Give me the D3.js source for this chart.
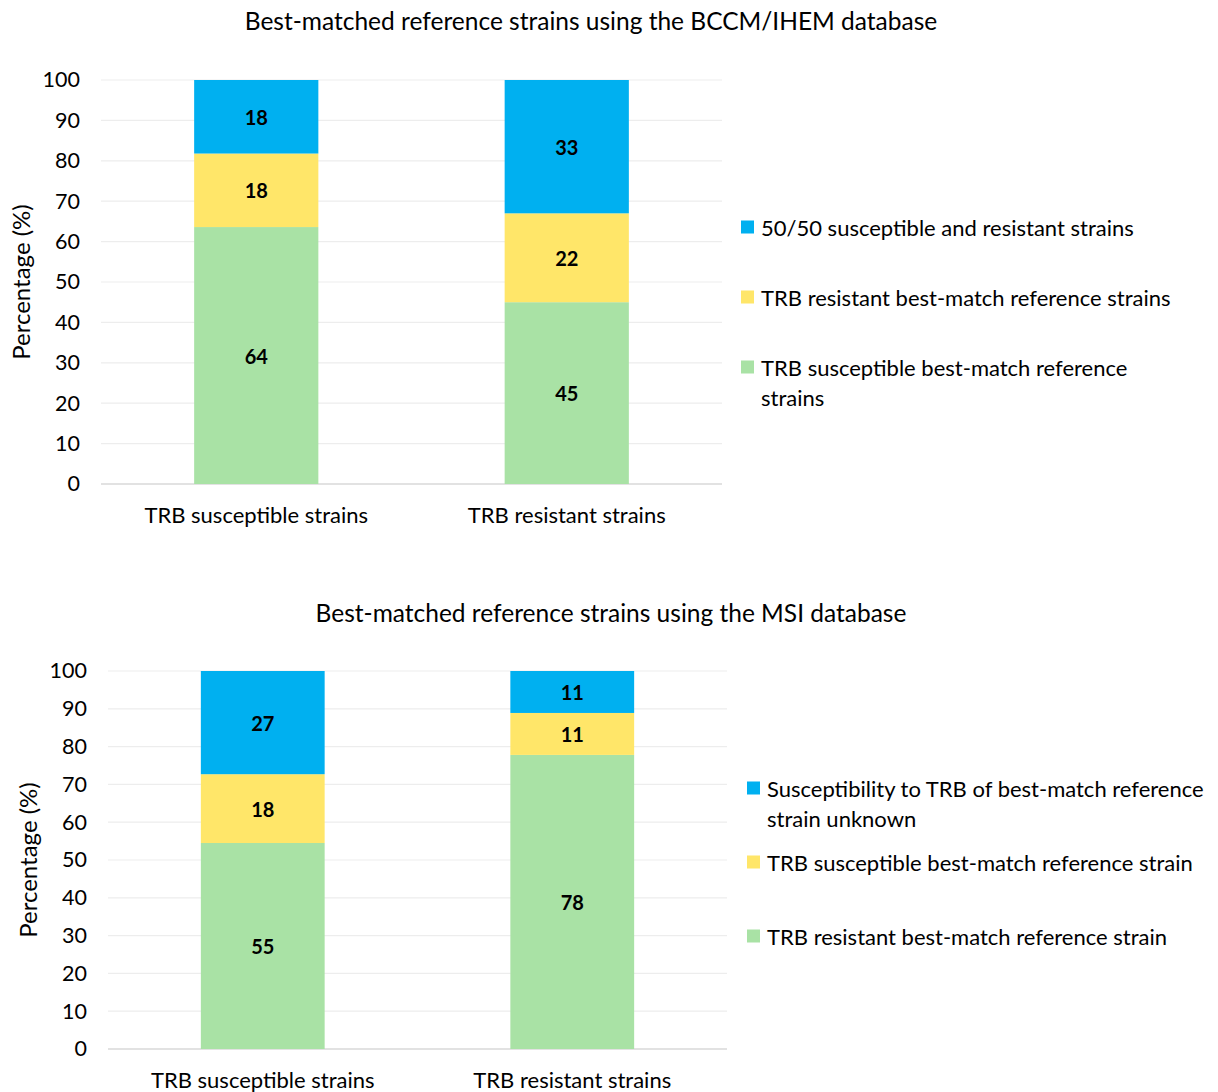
<!DOCTYPE html>
<html>
<head>
<meta charset="utf-8">
<script src="https://cdn.jsdelivr.net/npm/d3@7"></script>
<style>
  body { margin: 0; background: #fff; }
  svg text { font-family: Lato, "Open Sans", sans-serif; fill: #000; }
</style>
</head>
<body>
<svg id="chart" width="1218" height="1092"></svg>
<script>
// categories shared by both panels
const categories = ['TRB susceptible strains', 'TRB resistant strains'];
const yTicks = [0, 10, 20, 30, 40, 50, 60, 70, 80, 90, 100];

// panel 1 : BCCM/IHEM (stack order bottom -> top)
const bccmTitle = 'Best-matched reference strains using the BCCM/IHEM database';
const bccmSeries = [
  'TRB susceptible best-match reference strains',
  'TRB resistant best-match reference strains',
  '50/50 susceptible and resistant strains'
];
const bccmSusceptible = [63.6, 18.2, 18.2];
const bccmResistant = [45, 22, 33];

// panel 2 : MSI
const msiTitle = 'Best-matched reference strains using the MSI database';
const msiSeries = [
  'TRB resistant best-match reference strain',
  'TRB susceptible best-match reference strain',
  'Susceptibility to TRB of best-match reference strain unknown'
];
const msiSusceptible = [54.5, 18.2, 27.3];
const msiResistant = [77.8, 11.1, 11.1];

const colors = ['#A9E2A5', '#FFE669', '#00B0F0'];

const svg = d3.select('#chart');

function drawPanel(opts)
{
  const g = svg.append('g');

  const x = d3.scaleBand().domain(categories)
      .range([opts.left, opts.right]).paddingInner(0.6).paddingOuter(0.3);
  const y = d3.scaleLinear().domain([0, 100]).range([opts.bottom, opts.top]);

  // title
  g.append('text')
      .attr('x', opts.titleX).attr('y', opts.titleY)
      .attr('text-anchor', 'middle').attr('dominant-baseline', 'central')
      .style('font-size', '24.5px')
      .text(opts.title);

  // gridlines
  g.append('g').selectAll('line')
      .data(yTicks)
      .join('line')
      .attr('x1', opts.left).attr('x2', opts.right)
      .attr('y1', d => y(d)).attr('y2', d => y(d))
      .style('stroke', d => d === 0 ? '#d9d9d9' : '#ededed')
      .style('stroke-width', d => d === 0 ? 1.5 : 1.2);

  // y axis labels (no domain line)
  const yAxis = g.append('g')
      .attr('transform', `translate(${opts.left - 21},0)`)
      .call(d3.axisLeft(y).tickValues(yTicks).tickSize(0).tickPadding(0));
  yAxis.select('.domain').remove();
  yAxis.selectAll('text').style('font-size', '21.5px').style('fill', '#000');

  g.append('text')
      .attr('transform', `translate(${opts.yLabelX},${(opts.top + opts.bottom) / 2}) rotate(-90)`)
      .attr('text-anchor', 'middle').attr('dominant-baseline', 'central')
      .style('font-size', '24px')
      .text('Percentage (%)');

  // x axis labels
  const xAxis = g.append('g')
      .attr('transform', `translate(0,${opts.bottom})`)
      .call(d3.axisBottom(x).tickSize(0).tickPadding(opts.xPad));
  xAxis.select('.domain').remove();
  xAxis.selectAll('text').style('font-size', '22px').style('fill', '#000');

  // stacked bars
  const rows = categories.map((c, i) => {
    let row = { category : c };
    opts.series.forEach((s, j) => row[s] = opts.values[i][j]);
    return row;
  });
  const stacked = d3.stack().keys(opts.series)(rows);

  const layers = g.append('g').selectAll('g')
      .data(stacked)
      .join('g')
      .style('fill', (d, i) => colors[i]);

  layers.selectAll('rect')
      .data(d => d)
      .join('rect')
      .attr('x', d => x(d.data.category))
      .attr('width', x.bandwidth())
      .attr('y', d => y(d[1]))
      .attr('height', d => y(d[0]) - y(d[1]));

  layers.selectAll('text')
      .data(d => d.map(v => ({ v, key : d.key })))
      .join('text')
      .attr('x', d => x(d.v.data.category) + x.bandwidth() / 2)
      .attr('y', d => y((d.v[0] + d.v[1]) / 2))
      .attr('text-anchor', 'middle').attr('dominant-baseline', 'central')
      .style('font-size', '20px').style('font-weight', 'bold')
      .text(d => Math.round(d.v.data[d.key]));

  // legend, top series first
  const legendItems = opts.series.map((s, i) => ({ s, color : colors[i], lines : opts.legendLines[i] })).reverse();
  const legend = g.append('g').selectAll('g')
      .data(legendItems)
      .join('g')
      .attr('transform', (d, i) => `translate(${opts.legendX},${opts.legendY[i]})`);

  legend.append('rect')
      .attr('x', 0).attr('y', -6.5)
      .attr('width', 13).attr('height', 13)
      .style('fill', d => d.color);

  legend.append('text')
      .attr('x', 20).attr('y', 0)
      .attr('dominant-baseline', 'central')
      .style('font-size', '22px')
      .selectAll('tspan')
      .data(d => d.lines)
      .join('tspan')
      .attr('x', 20)
      .attr('dy', (d, i) => i === 0 ? 0 : 30)
      .text(d => d);
}

drawPanel({
  title : bccmTitle, titleX : 591, titleY : 20,
  series : bccmSeries, values : [bccmSusceptible, bccmResistant],
  left : 101, right : 722, top : 80, bottom : 484,
  yLabelX : 20, xPad : 23,
  legendX : 741, legendY : [227, 297, 367],
  legendLines : [
    ['TRB susceptible best-match reference', 'strains'],
    ['TRB resistant best-match reference strains'],
    ['50/50 susceptible and resistant strains']
  ]
});

drawPanel({
  title : msiTitle, titleX : 611, titleY : 612,
  series : msiSeries, values : [msiSusceptible, msiResistant],
  left : 108, right : 727, top : 671, bottom : 1049,
  yLabelX : 27, xPad : 23,
  legendX : 747, legendY : [788, 862, 936],
  legendLines : [
    ['TRB resistant best-match reference strain'],
    ['TRB susceptible best-match reference strain'],
    ['Susceptibility to TRB of best-match reference', 'strain unknown']
  ]
});
</script>
</body>
</html>
